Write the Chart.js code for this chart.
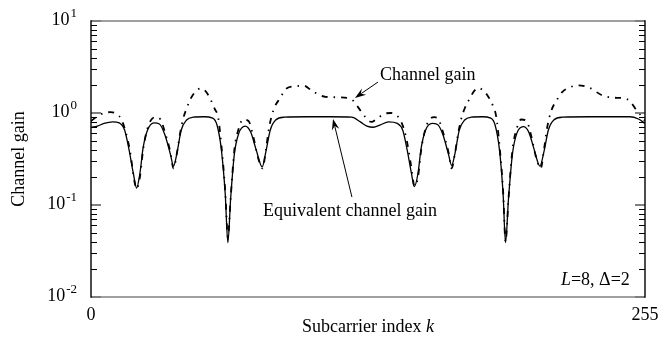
<!DOCTYPE html>
<html>
<head>
<meta charset="utf-8">
<script src="https://cdn.jsdelivr.net/npm/chart.js@4/dist/chart.umd.min.js"></script>
<style>
  html, body { margin: 0; padding: 0; background: #fff; }
  #wrap { width: 671px; height: 338px; }
</style>
</head>
<body>
<div id="wrap"><canvas id="gainCanvas" width="671" height="338"></canvas></div>
<script>
// equivalent channel gain (solid)
const eqK = [0, 3, 6, 10, 13, 15.5, 17.5, 19.5, 21, 22.5, 24, 26, 29, 31.5, 34, 36.5, 38, 39.5, 41.5, 44,
  47, 52, 56, 58, 60, 61.8, 63, 64.3, 66, 68, 71, 73.5, 76, 78.8, 80.5, 82.5, 85, 89, 100, 110,
  120, 124, 127, 130, 133, 137, 141, 143.5, 145.5, 147.5, 148.8, 150.5, 152, 154, 157, 159.5, 162, 164.5, 166, 167.5,
  169.5, 172, 175, 180, 184, 186, 188, 189.7, 190.8, 192.2, 194, 196, 199, 201.5, 204, 206.6, 208.5, 210.5, 213, 217,
  230, 248, 252, 255];
const eqGain = [0.70, 0.72, 0.77, 0.80, 0.78, 0.65, 0.40, 0.22, 0.153, 0.22, 0.42, 0.65, 0.78, 0.76, 0.58, 0.36, 0.265, 0.36, 0.65, 0.84,
  0.90, 0.91, 0.88, 0.74, 0.40, 0.13, 0.039, 0.12, 0.36, 0.60, 0.72, 0.62, 0.40, 0.26, 0.38, 0.65, 0.84, 0.90, 0.91, 0.91,
  0.90, 0.80, 0.72, 0.70, 0.74, 0.80, 0.77, 0.65, 0.40, 0.22, 0.158, 0.22, 0.42, 0.65, 0.77, 0.75, 0.58, 0.36, 0.27, 0.36,
  0.65, 0.84, 0.90, 0.91, 0.88, 0.74, 0.40, 0.13, 0.039, 0.12, 0.36, 0.60, 0.71, 0.62, 0.40, 0.265, 0.38, 0.65, 0.84, 0.90,
  0.91, 0.91, 0.86, 0.77];

// channel gain (dash-dot)
const chK = [0, 3, 6, 9, 12, 14, 16, 18, 20, 21, 22.5, 24, 26, 28, 30, 32, 34, 36.5, 38, 39.5,
  41, 42.5, 44, 46, 48.5, 50.5, 52.5, 54.5, 57, 58.5, 60, 61.8, 63, 64.3, 66, 68, 70, 72.5, 74.5, 77,
  79, 80.5, 82, 84, 87, 90, 94, 98, 102, 108, 114, 120, 123, 126, 129, 132, 135, 138, 141, 143,
  145, 147, 149, 150.5, 152, 154, 156, 158, 160, 162, 164.5, 166, 167.5, 169, 170.5, 172, 174.4, 176.5, 178.5, 180.5,
  182.5, 185, 186.5, 188, 189.7, 190.8, 192.2, 194, 196, 198, 200.5, 202.5, 205, 207, 208.5, 210, 212, 214.4, 217, 220,
  224, 229.6, 235, 240, 245, 248, 251, 253, 255];
const chGain = [0.82, 0.92, 1.00, 1.02, 0.97, 0.85, 0.62, 0.38, 0.18, 0.15, 0.20, 0.40, 0.68, 0.86, 0.90, 0.85, 0.62, 0.38, 0.25, 0.36,
  0.60, 0.88, 1.12, 1.45, 1.75, 1.85, 1.75, 1.49, 1.10, 0.90, 0.45, 0.14, 0.045, 0.12, 0.40, 0.68, 0.85, 0.82, 0.58, 0.32,
  0.25, 0.40, 0.70, 1.08, 1.45, 1.85, 1.95, 1.98, 1.72, 1.50, 1.48, 1.40, 1.15, 0.92, 0.80, 0.88, 0.98, 1.00, 0.93, 0.78,
  0.55, 0.30, 0.16, 0.20, 0.40, 0.68, 0.86, 0.90, 0.85, 0.62, 0.38, 0.25, 0.36, 0.60, 0.88, 1.12, 1.45, 1.75, 1.87, 1.75,
  1.55, 1.20, 0.92, 0.45, 0.14, 0.04, 0.12, 0.40, 0.68, 0.85, 0.82, 0.58, 0.32, 0.25, 0.40, 0.70, 1.08, 1.38, 1.70, 1.88,
  2.00, 1.87, 1.57, 1.47, 1.45, 1.35, 1.08, 0.95, 0.82];

const decades = [-2, -1, 0, 1];
const xTickValues = [0, 255];

const serif = "'Liberation Serif', 'Times New Roman', serif";

function pts(xs, ys) {
  return xs.map((k, i) => ({ x: k, y: ys[i] }));
}

function arrow(ctx, x1, y1, x2, y2) {
  const a = Math.atan2(y2 - y1, x2 - x1);
  const c = Math.cos(a), s = Math.sin(a);
  const len = 11, half = 3.8;
  ctx.beginPath();
  ctx.moveTo(x1, y1);
  ctx.lineTo(x2 - c * len * 0.7, y2 - s * len * 0.7);
  ctx.stroke();
  ctx.beginPath();
  ctx.moveTo(x2, y2);
  ctx.lineTo(x2 - c * len + s * half, y2 - s * len - c * half);
  ctx.lineTo(x2 - c * len * 0.65, y2 - s * len * 0.65);
  ctx.lineTo(x2 - c * len - s * half, y2 - s * len + c * half);
  ctx.closePath();
  ctx.fill();
}

// frame, inward log ticks, power-of-ten labels and notes
const decor = {
  id: 'decor',
  afterDraw(chart) {
    const { ctx, chartArea: a, scales: { x, y } } = chart;
    ctx.save();

    // minor ticks
    ctx.strokeStyle = '#000';
    ctx.lineWidth = 1;
    for (let d = -2; d < 1; d++) {
      for (let m = 2; m <= 9; m++) {
        const py = Math.round(y.getPixelForValue(m * Math.pow(10, d))) + 0.5;
        ctx.beginPath();
        ctx.moveTo(a.left, py); ctx.lineTo(a.left + 6, py);
        ctx.moveTo(a.right, py); ctx.lineTo(a.right - 6, py);
        ctx.stroke();
      }
    }
    // decade ticks
    ctx.strokeStyle = '#808080';
    ctx.lineWidth = 2;
    decades.forEach(d => {
      const py = y.getPixelForValue(Math.pow(10, d));
      ctx.beginPath();
      ctx.moveTo(a.left, py); ctx.lineTo(a.left + 10, py);
      ctx.moveTo(a.right, py); ctx.lineTo(a.right - 10, py);
      ctx.stroke();
    });

    // frame: top/bottom grey, sides black
    ctx.strokeStyle = '#808080';
    ctx.lineWidth = 1.6;
    ctx.beginPath();
    ctx.moveTo(a.left, a.top); ctx.lineTo(a.right, a.top);
    ctx.moveTo(a.left, a.bottom); ctx.lineTo(a.right, a.bottom);
    ctx.stroke();
    ctx.strokeStyle = '#000';
    ctx.lineWidth = 1.4;
    ctx.beginPath();
    ctx.moveTo(a.left, a.top - 0.8); ctx.lineTo(a.left, a.bottom + 0.8);
    ctx.moveTo(a.right, a.top - 0.8); ctx.lineTo(a.right, a.bottom + 0.8);
    ctx.stroke();

    // y tick labels 10^n
    ctx.fillStyle = '#000';
    ctx.textBaseline = 'middle';
    decades.forEach(d => {
      const py = y.getPixelForValue(Math.pow(10, d));
      ctx.font = '13px ' + serif;
      ctx.textAlign = 'right';
      const sw = ctx.measureText(String(d)).width;
      ctx.fillText(String(d), 77, py - 7);
      ctx.font = '18px ' + serif;
      ctx.fillText('10', 77 - sw - 1, py - 1);
    });

    // x axis title with italic k
    ctx.textBaseline = 'middle';
    ctx.textAlign = 'left';
    ctx.font = '18px ' + serif;
    const t1 = 'Subcarrier index ';
    const w1 = ctx.measureText(t1).width;
    ctx.font = 'italic 18px ' + serif;
    const w2 = ctx.measureText('k').width;
    const cx = (a.left + a.right) / 2;
    const tx = cx - (w1 + w2) / 2;
    ctx.font = '18px ' + serif;
    ctx.fillText(t1, tx, 327);
    ctx.font = 'italic 18px ' + serif;
    ctx.fillText('k', tx + w1, 327);

    // notes
    ctx.font = '18px ' + serif;
    ctx.textAlign = 'left';
    ctx.fillText('Channel gain', x.getPixelForValue(133), y.getPixelForValue(2.6));
    ctx.fillText('Equivalent channel gain', x.getPixelForValue(79.2), y.getPixelForValue(0.086));

    ctx.lineWidth = 1;
    ctx.strokeStyle = '#000';
    arrow(ctx, x.getPixelForValue(132.1), y.getPixelForValue(2.17), x.getPixelForValue(121.5), y.getPixelForValue(1.46));
    arrow(ctx, x.getPixelForValue(120.1), y.getPixelForValue(0.122), x.getPixelForValue(111.4), y.getPixelForValue(0.86));

    // L=8, Δ=2
    ctx.textAlign = 'right';
    const ly = y.getPixelForValue(0.0153);
    const rest = '=8, \u0394=2';
    ctx.font = '18px ' + serif;
    const rw = ctx.measureText(rest).width;
    const rx = x.getPixelForValue(248);
    ctx.fillText(rest, rx, ly);
    ctx.font = 'italic 18px ' + serif;
    ctx.fillText('L', rx - rw, ly);

    ctx.restore();
  }
};

const gainChart = new Chart(document.getElementById('gainCanvas'), {
  type: 'line',
  data: {
    datasets: [{
      label: 'Equivalent channel gain',
      data: pts(eqK, eqGain),
      borderColor: '#000',
      borderWidth: 1.3,
      pointRadius: 0,
      cubicInterpolationMode: 'monotone'
    }, {
      label: 'Channel gain',
      data: pts(chK, chGain),
      borderColor: '#000',
      borderWidth: 1.8,
      borderDash: [6, 6, 1.5, 6],
      pointRadius: 0,
      cubicInterpolationMode: 'monotone'
    }]
  },
  options: {
    responsive: false,
    animation: false,
    layout: { padding: { top: 21, right: 26, left: 0, bottom: 0 } },
    plugins: {
      legend: { display: false },
      tooltip: { enabled: false }
    },
    scales: {
      x: {
        type: 'linear',
        min: 0,
        max: 255,
        grid: { display: false, drawTicks: false },
        border: { display: false },
        afterBuildTicks: s => { s.ticks = xTickValues.map(v => ({ value: v })); },
        afterFit: s => { s.height = 41; },
        ticks: {
          color: '#000',
          padding: 7,
          maxRotation: 0,
          font: { family: serif, size: 18 }
        }
      },
      y: {
        type: 'logarithmic',
        min: 0.01,
        max: 10,
        grid: { display: false },
        border: { display: false },
        afterFit: s => { s.width = 91; },
        ticks: { display: false },
        title: {
          display: true,
          text: 'Channel gain',
          color: '#000',
          padding: { top: 8 },
          font: { family: serif, size: 18 }
        }
      }
    }
  },
  plugins: [decor]
});
</script>
</body>
</html>
